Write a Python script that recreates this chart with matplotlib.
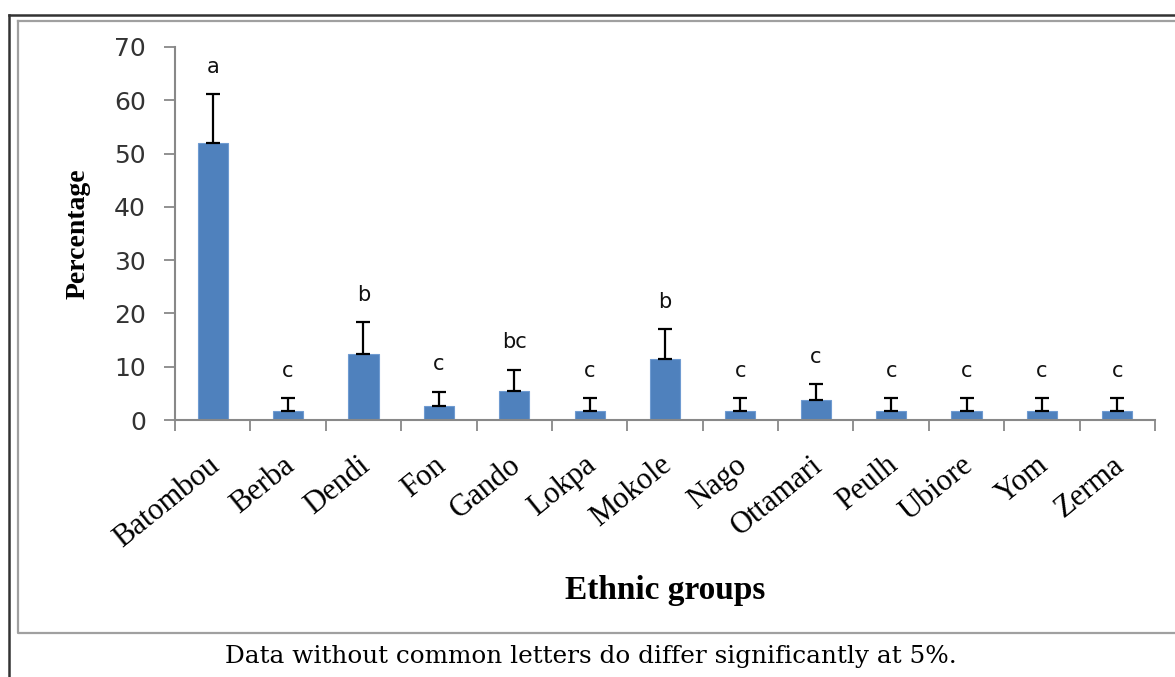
import matplotlib.pyplot as plt
from matplotlib.lines import Line2D
from matplotlib.transforms import ScaledTranslation
import numpy as np

# data
groups = ["Batombou", "Berba", "Dendi", "Fon", "Gando", "Lokpa", "Mokole",
          "Nago", "Ottamari", "Peulh", "Ubiore", "Yom", "Zerma"]
percent = [52.0, 1.75, 12.4, 2.7, 5.4, 1.75, 11.4, 1.75, 3.75, 1.75, 1.75, 1.75, 1.75]
err_top = [61.1, 4.05, 18.3, 5.3, 9.4, 4.05, 17.0, 4.05, 6.7, 4.05, 4.05, 4.05, 4.05]
letters = ["a", "c", "b", "c", "bc", "c", "b", "c", "c", "c", "c", "c", "c"]

W, H = 1175, 677
fig = plt.figure(figsize=(W / 100, H / 100), dpi=100)
ax = fig.add_axes([175 / W, 1 - 420 / H, 980 / W, 373 / H])

x = np.arange(len(groups))
upper = np.array(err_top) - np.array(percent)
ax.bar(x, percent, width=0.40, color="#4F81BD", edgecolor="#6F9BD1", linewidth=0.8, zorder=2)
ax.errorbar(x, percent, yerr=[np.zeros(len(x)), upper], fmt="none", ecolor="black",
            elinewidth=1.6, capsize=5, capthick=1.6, zorder=3)

for xi, top, lab in zip(x, err_top, letters):
    ax.annotate(lab, (xi, top), xytext=(0, 20), textcoords="offset points",
                ha="center", va="center", fontsize=15, family="DejaVu Sans", color="#111111")

ax.set_xlim(-0.5, len(groups) - 0.5)
ax.set_ylim(0, 70)
ax.set_yticks(range(0, 71, 10))
ax.tick_params(axis="y", labelsize=18, length=8, width=1.3, color="#888888", pad=13,
               labelcolor="#333333")
ax.set_xticks(x)
ax.set_xticklabels(groups, rotation=39, ha="right", rotation_mode="anchor",
                   fontsize=22, family="Liberation Serif")
ax.tick_params(axis="x", length=0, pad=22)
ax.set_xticks(np.arange(-0.5, len(groups), 1), minor=True)
ax.tick_params(axis="x", which="minor", length=8, width=1.3, color="#888888")

# nudge the slanted labels a little to the left
shift = ScaledTranslation(-6 / 100, 0, fig.dpi_scale_trans)
for lbl in ax.get_xticklabels():
    lbl.set_transform(lbl.get_transform() + shift)

for side in ["top", "right"]:
    ax.spines[side].set_visible(False)
for side in ["left", "bottom"]:
    ax.spines[side].set_color("#888888")
    ax.spines[side].set_linewidth(1.5)

ax.set_ylabel("Percentage", fontsize=20, fontweight="bold", family="Liberation Serif", labelpad=17)
fig.text(665 / W, 1 - 590 / H, "Ethnic groups", fontsize=24, fontweight="bold",
         family="Liberation Serif", ha="center", va="center")
fig.text(591 / W, 1 - 657 / H, "Data without common letters do differ significantly at 5%.",
         fontsize=17.8, family="DejaVu Serif", ha="center", va="center")

# frame lines around the figure
fig.add_artist(Line2D([9 / W, 9 / W], [0, 1 - 15 / H], color="#333333", lw=1.8))
fig.add_artist(Line2D([9 / W, 1], [1 - 15 / H, 1 - 15 / H], color="#333333", lw=1.8))
fig.add_artist(Line2D([17.5 / W, 17.5 / W, 1], [1 - 20.5 / H, 1 - 632.5 / H, 1 - 632.5 / H],
                      color="#a0a0a0", lw=1.6))
fig.add_artist(Line2D([17.5 / W, 1], [1 - 20.5 / H, 1 - 20.5 / H], color="#a0a0a0", lw=1.6))

fig.savefig("out.png", dpi=100)
